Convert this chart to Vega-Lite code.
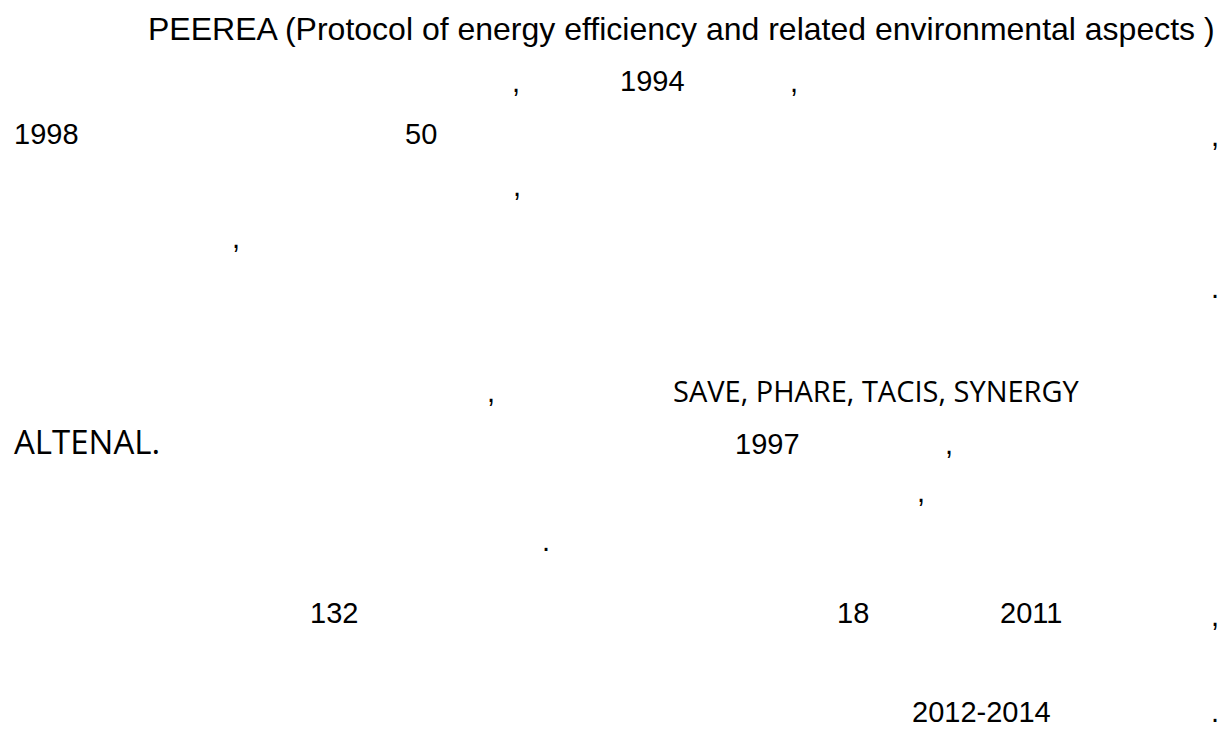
{
  "$schema": "https://vega.github.io/schema/vega-lite/v6.json",
  "width": 1228,
  "height": 733,
  "autosize": {"type": "fit", "contains": "padding"},
  "padding": 0,
  "background": "white",
  "config": {"view": {"stroke": null}},
  "datasets": {
    "heading": [
      {"t": "PEEREA (Protocol of energy efficiency and related environmental aspects )", "x": 148, "y": 40}
    ],
    "body": [
      {"t": ",", "x": 512, "y": 92},
      {"t": "1994", "x": 620, "y": 91},
      {"t": ",", "x": 790, "y": 92},
      {"t": "1998", "x": 14, "y": 144},
      {"t": "50", "x": 405, "y": 144},
      {"t": ",", "x": 1211, "y": 146},
      {"t": ",", "x": 513, "y": 196},
      {"t": ",", "x": 232, "y": 248},
      {"t": ".", "x": 1211, "y": 298},
      {"t": ",", "x": 487, "y": 402},
      {"t": "1997", "x": 735, "y": 454},
      {"t": ",", "x": 945, "y": 454},
      {"t": ",", "x": 917, "y": 502},
      {"t": ".", "x": 542, "y": 551},
      {"t": "132", "x": 310, "y": 623},
      {"t": "18", "x": 837, "y": 623},
      {"t": "2011", "x": 1000, "y": 623},
      {"t": ",", "x": 1211, "y": 626},
      {"t": "2012-2014", "x": 912, "y": 722},
      {"t": ".", "x": 1211, "y": 722}
    ],
    "programmes": [
      {"t": "SAVE, PHARE, TACIS, SYNERGY", "x": 673, "y": 402}
    ],
    "programme_tail": [
      {"t": "ALTENAL.", "x": 14, "y": 454}
    ]
  },
  "layer": [
    {
      "data": {"name": "heading"},
      "mark": {"type": "text", "align": "left", "baseline": "alphabetic", "font": "Liberation Sans", "fontSize": 32, "color": "#000000"},
      "encoding": {
        "x": {"field": "x", "type": "quantitative", "scale": {"domain": [0, 1228], "range": [0, 1228], "nice": false, "zero": false}, "axis": null},
        "y": {"field": "y", "type": "quantitative", "scale": {"domain": [0, 733], "range": [0, 733], "nice": false, "zero": false}, "axis": null},
        "text": {"field": "t"}
      }
    },
    {
      "data": {"name": "body"},
      "mark": {"type": "text", "align": "left", "baseline": "alphabetic", "font": "Liberation Sans", "fontSize": 29, "color": "#000000"},
      "encoding": {
        "x": {"field": "x", "type": "quantitative", "scale": {"domain": [0, 1228], "range": [0, 1228], "nice": false, "zero": false}, "axis": null},
        "y": {"field": "y", "type": "quantitative", "scale": {"domain": [0, 733], "range": [0, 733], "nice": false, "zero": false}, "axis": null},
        "text": {"field": "t"}
      }
    },
    {
      "data": {"name": "programmes"},
      "mark": {"type": "text", "align": "left", "baseline": "alphabetic", "font": "Open Sans", "fontSize": 29, "color": "#000000"},
      "encoding": {
        "x": {"field": "x", "type": "quantitative", "scale": {"domain": [0, 1228], "range": [0, 1228], "nice": false, "zero": false}, "axis": null},
        "y": {"field": "y", "type": "quantitative", "scale": {"domain": [0, 733], "range": [0, 733], "nice": false, "zero": false}, "axis": null},
        "text": {"field": "t"}
      }
    },
    {
      "data": {"name": "programme_tail"},
      "mark": {"type": "text", "align": "left", "baseline": "alphabetic", "font": "Open Sans", "fontSize": 33, "color": "#000000"},
      "encoding": {
        "x": {"field": "x", "type": "quantitative", "scale": {"domain": [0, 1228], "range": [0, 1228], "nice": false, "zero": false}, "axis": null},
        "y": {"field": "y", "type": "quantitative", "scale": {"domain": [0, 733], "range": [0, 733], "nice": false, "zero": false}, "axis": null},
        "text": {"field": "t"}
      }
    }
  ]
}
